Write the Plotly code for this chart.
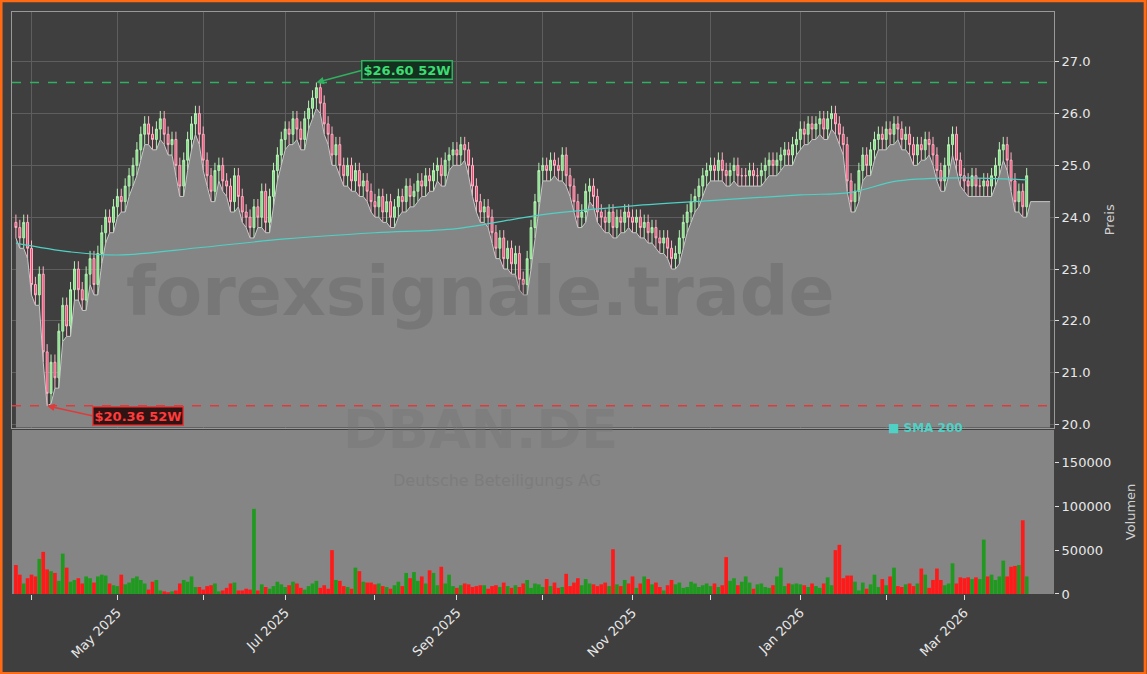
import pandas as pd
import plotly.graph_objects as go

# daily closes, month by month
close_mar25 = [23.8, 23.6, 23.9, 23.4]
close_apr = [22.7, 22.5, 22.9, 21.4, 20.6, 21.2, 20.9, 21.8, 22.3, 21.9, 22.6, 23.0, 22.6, 22.4, 22.9, 23.2, 22.7, 23.3, 23.7, 24.0, 23.9, 24.2]
close_may = [24.4, 24.3, 24.6, 24.8, 25.0, 25.3, 25.6, 25.8, 25.6, 25.5, 25.7, 25.9, 25.6, 25.4, 25.5, 25.0, 24.6, 25.1, 25.5, 25.8, 26.0, 25.6]
close_jun = [25.1, 24.8, 24.5, 24.9, 25.0, 24.7, 24.6, 24.3, 24.8, 24.4, 24.1, 24.0, 23.8, 24.2, 24.0, 24.5, 23.9, 24.4, 24.9, 25.2, 25.5]
close_jul = [25.7, 25.6, 25.9, 25.7, 25.5, 25.9, 26.1, 26.3, 26.5, 26.2, 25.8, 25.6, 25.2, 25.4, 25.0, 24.8, 25.0, 24.7, 24.9, 24.6, 24.7, 24.5, 24.3]
close_aug = [24.2, 24.4, 24.1, 24.3, 24.0, 24.2, 24.4, 24.3, 24.6, 24.4, 24.5, 24.7, 24.6, 24.8, 24.7, 24.9, 25.0, 24.8, 25.1, 25.2, 25.3]
close_sep = [25.2, 25.4, 25.3, 25.0, 24.6, 24.3, 24.1, 24.2, 24.0, 23.7, 23.4, 23.6, 23.2, 23.4, 23.1, 23.3, 22.8, 22.7, 23.2, 23.8, 24.3, 24.9]
close_oct = [25.0, 24.9, 25.1, 25.0, 24.9, 25.2, 24.8, 24.6, 24.3, 24.0, 24.1, 24.5, 24.6, 24.4, 24.1, 24.0, 23.9, 24.1, 23.8, 24.0, 23.9, 24.1, 24.0]
close_nov = [23.9, 24.0, 23.8, 23.9, 23.7, 23.8, 23.6, 23.5, 23.6, 23.4, 23.2, 23.3, 23.6, 23.9, 24.1, 24.3, 24.4, 24.6, 24.8, 24.9]
close_dec = [25.0, 24.9, 25.1, 24.9, 24.8, 24.9, 25.0, 24.8, 24.8, 24.8, 24.9, 24.8, 24.8, 24.9, 25.0, 25.1, 25.0, 25.1, 25.2, 25.3, 25.2, 25.4, 25.5]
close_jan = [25.7, 25.6, 25.8, 25.7, 25.8, 25.9, 25.7, 25.9, 26.0, 25.8, 25.6, 25.4, 24.7, 24.3, 24.5, 24.9, 25.2, 25.0, 25.3, 25.5, 25.6, 25.5]
close_feb = [25.7, 25.6, 25.8, 25.7, 25.5, 25.6, 25.4, 25.2, 25.4, 25.3, 25.5, 25.4, 25.2, 24.9, 24.7, 25.0, 25.4, 25.6, 25.1, 24.8]
close_mar26 = [24.7, 24.6, 24.8, 24.6, 24.6, 24.7, 24.6, 24.8, 25.0, 25.3, 25.4, 25.1, 24.7, 24.3, 24.5, 24.2, 24.8]

vol_mar25 = [33000, 22000, 12000, 18000]
vol_apr = [22000, 20000, 40000, 48000, 28000, 26000, 24000, 15000, 46000, 30000, 14000, 16000, 18000, 12000, 20000, 18000, 13000, 20000, 22000, 21000, 12000, 10000]
vol_may = [9000, 22000, 11000, 13000, 18000, 20000, 16000, 12000, 5000, 14000, 16000, 4000, 3000, 2000, 3000, 4000, 12000, 16000, 14000, 20000, 8000, 8000]
vol_jun = [5000, 9000, 10000, 12000, 3000, 4000, 7000, 12000, 13000, 4000, 4000, 6000, 5000, 97000, 4000, 11000, 8000, 6000, 9000, 14000, 11000]
vol_jul = [8000, 10000, 14000, 12000, 7000, 5000, 9000, 12000, 15000, 7000, 10000, 6000, 50000, 16000, 15000, 9000, 8000, 6000, 30000, 26000, 14000, 13000, 13000]
vol_aug = [11000, 12000, 9000, 8000, 6000, 10000, 14000, 9000, 24000, 18000, 25000, 15000, 20000, 12000, 27000, 24000, 10000, 31000, 12000, 22000, 9000]
vol_sep = [7000, 10000, 12000, 11000, 8000, 9000, 10000, 10000, 6000, 9000, 10000, 8000, 13000, 9000, 7000, 10000, 8000, 12000, 16000, 7000, 12000, 11000]
vol_oct = [8000, 17000, 9000, 13000, 7000, 8000, 23000, 9000, 13000, 18000, 10000, 17000, 12000, 11000, 9000, 11000, 13000, 9000, 51000, 11000, 9000, 16000, 12000]
vol_nov = [20000, 7000, 12000, 20000, 17000, 11000, 13000, 8000, 4000, 10000, 16000, 11000, 13000, 7000, 8000, 14000, 12000, 8000, 10000, 12000]
vol_dec = [9000, 12000, 8000, 10000, 42000, 15000, 18000, 10000, 14000, 20000, 13000, 6000, 11000, 12000, 8000, 7000, 10000, 20000, 30000, 9000, 12000, 11000, 12000]
vol_jan = [11000, 10000, 8000, 12000, 9000, 7000, 12000, 19000, 10000, 50000, 56000, 18000, 21000, 21000, 14000, 4000, 13000, 6000, 11000, 22000, 8000, 17000]
vol_feb = [10000, 20000, 30000, 9000, 8000, 11000, 12000, 9000, 12000, 29000, 22000, 7000, 16000, 29000, 16000, 10000, 12000, 35000, 12000, 19000]
vol_mar26 = [18000, 19000, 17000, 19000, 17000, 62000, 20000, 22000, 16000, 20000, 38000, 20000, 31000, 32000, 33000, 84000, 20000]

sma_dates = ["2025-03-26", "2025-04-15", "2025-05-01", "2025-06-02", "2025-07-01", "2025-08-01", "2025-09-01",
             "2025-10-01", "2025-11-03", "2025-12-01", "2026-01-01", "2026-01-20", "2026-02-05", "2026-03-02", "2026-03-24"]
sma_vals = [23.5, 23.33, 23.27, 23.42, 23.58, 23.7, 23.78, 24.05, 24.22, 24.32, 24.43, 24.48, 24.7, 24.76, 24.72]

high_52w = 26.60
low_52w = 20.36

close = (close_mar25 + close_apr + close_may + close_jun + close_jul + close_aug + close_sep
         + close_oct + close_nov + close_dec + close_jan + close_feb + close_mar26)
volume = (vol_mar25 + vol_apr + vol_may + vol_jun + vol_jul + vol_aug + vol_sep
          + vol_oct + vol_nov + vol_dec + vol_jan + vol_feb + vol_mar26)
n = min(len(close), len(volume))
close = close[:n]
volume = volume[:n]
dates = pd.bdate_range("2025-03-26", periods=n)

opens = [close[0] + 0.1] + close[:-1]
highs = [max(o, c) + 0.15 for o, c in zip(opens, close)]
lows = [min(o, c) - 0.2 for o, c in zip(opens, close)]
i_hi = highs.index(max(highs))
i_lo = lows.index(min(lows))
highs[i_hi] = high_52w
lows[i_lo] = low_52w

vol_colors = ["#1f9a1f" if c >= o else "#ff1a1a" for o, c in zip(opens, close)]

fig = go.Figure()

# grey area under price
area_x = list(dates) + [pd.Timestamp("2026-03-25"), pd.Timestamp("2026-04-01")]
area_y = lows + [close[-1] - 0.5, close[-1] - 0.5]
fig.add_trace(go.Scatter(x=area_x, y=area_y, mode="lines", line=dict(color="#c8c8c8", width=1),
                         fill="tozeroy", fillcolor="#858585", hoverinfo="skip", showlegend=False,
                         xaxis="x", yaxis="y"))
fig.add_trace(go.Candlestick(x=dates, open=opens, high=highs, low=lows, close=close,
                             increasing=dict(line=dict(color="#b5f2b5", width=1), fillcolor="#7fe07f"),
                             decreasing=dict(line=dict(color="#ffb3c6", width=1), fillcolor="#f0406a"),
                             whiskerwidth=0, showlegend=False, xaxis="x", yaxis="y"))
fig.add_trace(go.Scatter(x=pd.to_datetime(sma_dates), y=sma_vals, mode="lines", line=dict(color="#4fd1c5", width=1.2, shape="spline"),
                         showlegend=False, xaxis="x", yaxis="y"))
fig.add_trace(go.Bar(x=dates, y=volume, marker=dict(color=vol_colors, line_width=0), showlegend=False,
                     xaxis="x2", yaxis="y2"))

fig.add_hline(y=high_52w, line=dict(color="#2fb160", width=1.5, dash="dash"), yref="y")
fig.add_hline(y=low_52w, line=dict(color="#e03a3a", width=1.5, dash="dash"), yref="y")

xr = ["2025-03-25", "2026-04-02"]
weekends = [dict(bounds=["sat", "mon"])]
fig.update_layout(
    width=1147, height=674,
    margin=dict(l=12, r=93, t=12, b=80),
    paper_bgcolor="#3f3f3f", plot_bgcolor="#3f3f3f",
    font=dict(family="DejaVu Sans", color="#e8e8e8", size=13),
    xaxis=dict(domain=[0, 1], anchor="y", range=xr, showticklabels=False, showgrid=True,
               gridcolor="#5e5e5e", rangeslider=dict(visible=False), rangebreaks=weekends,
               showline=True, linecolor="#999", mirror=True, zeroline=False),
    yaxis=dict(domain=[0.286, 1], range=[19.94, 27.96], side="right", dtick=1, tickformat=".1f",
               showgrid=True, gridcolor="#5e5e5e", ticks="outside", ticklen=4, tickcolor="#ddd",
               title=dict(text="Preis", font=dict(color="#d0d0d0", size=13)), zeroline=False,
               showline=True, linecolor="#999", mirror=True),
    xaxis2=dict(domain=[0, 1], anchor="y2", range=xr, matches="x", rangebreaks=weekends,
                tickangle=-45, ticks="outside", ticklen=5, tickcolor="#ddd",
                showgrid=False, zeroline=False, tickfont=dict(size=13)),
    yaxis2=dict(domain=[0, 0.282], range=[0, 187000], side="right", tickvals=[0, 50000, 100000, 150000],
                ticktext=["0", "50000", "100000", "150000"], ticks="outside", ticklen=4, tickcolor="#ddd",
                showgrid=False, zeroline=False,
                title=dict(text="Volumen", font=dict(color="#d0d0d0", size=13))),
    bargap=0.05,
)

# month labels only every second month (first business day of each month)
labels = pd.date_range("2025-04-01", "2026-03-31", freq="BMS")
fig.update_layout(xaxis2=dict(tickvals=list(labels),
                              ticktext=[d.strftime("%b %Y") if d.month % 2 == 1 else "" for d in labels]),
                  xaxis=dict(tickvals=list(labels)))

fig.add_shape(type="rect", xref="x2 domain", yref="y2 domain", x0=0, x1=1, y0=0, y1=1,
              fillcolor="#858585", line=dict(width=0), layer="below")
fig.add_shape(type="rect", xref="paper", yref="paper", x0=-0.0105, x1=1.0875, y0=-0.1365, y1=1.0195,
              line=dict(color="#ff6a13", width=3))

# watermarks
fig.add_annotation(text="<b>forexsignale.trade</b>", xref="paper", yref="paper", x=0.45, y=0.52,
                   showarrow=False, font=dict(size=68, color="rgba(90,90,90,0.3)"))
fig.add_annotation(text="<b>DBAN.DE</b>", xref="paper", yref="paper", x=0.45, y=0.225,
                   showarrow=False, font=dict(size=54, color="rgba(115,115,115,0.4)"))
fig.add_annotation(text="Deutsche Beteiligungs AG", xref="paper", yref="paper", x=0.465, y=0.175,
                   showarrow=False, font=dict(size=16, color="rgba(115,115,115,0.5)"))
fig.add_annotation(text="<b>■ SMA 200</b>", xref="paper", yref="paper", x=0.915, y=0.27,
                   showarrow=False, font=dict(size=12, color="#4fd1c5"))

# 52 week markers
fig.add_annotation(x=dates[i_hi], y=high_52w, xref="x", yref="y", text="<b>$26.60 52W</b>",
                   ax=45, ay=-12, showarrow=True, arrowhead=2, arrowsize=1, arrowwidth=1.5, arrowcolor="#2fb160",
                   font=dict(color="#3ddc74", size=13), bgcolor="#14301e", bordercolor="#2fb160", borderwidth=1.5,
                   xanchor="left")
fig.add_annotation(x=dates[i_lo], y=low_52w, xref="x", yref="y", text="<b>$20.36 52W</b>",
                   ax=45, ay=10, showarrow=True, arrowhead=2, arrowsize=1, arrowwidth=1.5, arrowcolor="#e03a3a",
                   font=dict(color="#ff3b3b", size=13), bgcolor="#301414", bordercolor="#e03a3a", borderwidth=1.5,
                   xanchor="left")

fig.write_html("out.html", config={"displayModeBar": False},
               post_script="document.body.style.margin='0';")
